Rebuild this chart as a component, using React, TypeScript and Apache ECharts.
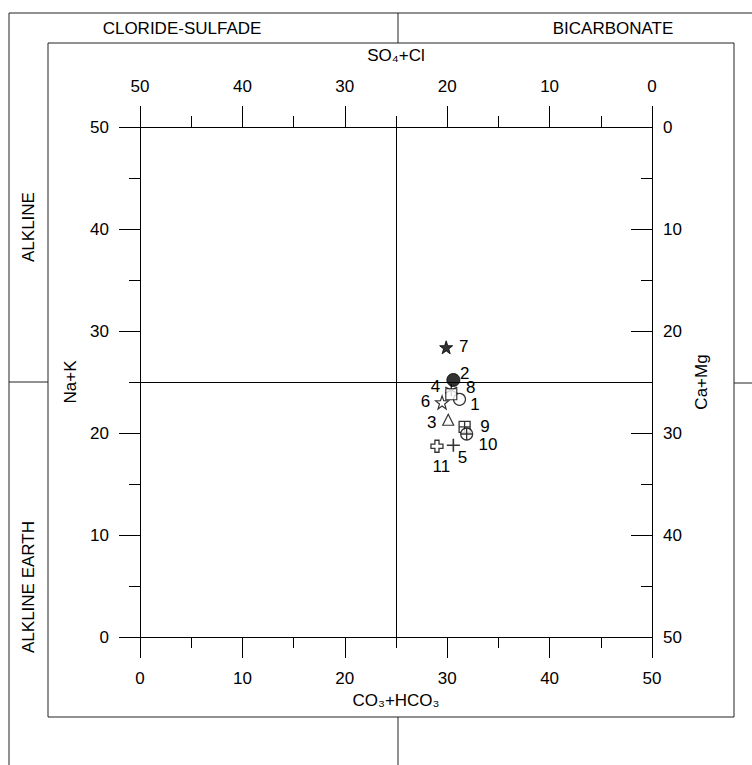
import React, { useEffect, useRef } from 'react';
import * as echarts from 'echarts';

// ---- data ----
const sampleIds = ['1', '2', '3', '4', '5', '6', '7', '8', '9', '10', '11'];
const carbonateBicarbonate = [31.2, 30.6, 30.1, 30.4, 30.6, 29.5, 29.9, 30.4, 31.7, 31.9, 29.0]; // CO3+HCO3
const sodiumPotassium = [23.3, 25.2, 21.3, 24.2, 18.8, 23.0, 28.4, 23.8, 20.6, 19.9, 18.7]; // Na+K
const markerKinds = [
  'openCircle', 'filledCircle', 'openTriangle', 'asterisk', 'plus', 'openStar',
  'filledStar', 'openSquare', 'squarePlus', 'circlePlus', 'openCross',
];
const axisMin = 0;
const axisMax = 50;
const axisStep = 10;
const dividerValue = 25;

// ---- styling / layout (not data) ----
const labelOffsets = [[16, 6], [12, -6], [-16, 3], [-15, -3], [10, 13], [-16, 0], [18, 0], [20, -6], [21, 0], [22, 11], [5, 21]];
const FONT = 'Liberation Sans, Arial, Helvetica, sans-serif';
const FS = 17;

const STAR = 'path://M5,0L6.176,3.382L9.755,3.455L6.902,5.618L7.939,9.045L5,7L2.061,9.045L3.098,5.618L0.245,3.455L3.824,3.382Z';
const markerStyles: Record<string, any> = {
  openCircle: { symbol: 'circle', size: 12, fill: '#fff', bw: 1.2 },
  filledCircle: { symbol: 'circle', size: 13, fill: '#000', bw: 1 },
  openTriangle: { symbol: 'triangle', size: 11, fill: '#fff', bw: 1.2 },
  asterisk: { symbol: 'path://M5,0L5,10M0.67,2.5L9.33,7.5M9.33,2.5L0.67,7.5', size: 12, fill: '#000', bw: 1.4 },
  plus: { symbol: 'path://M5,0L5,10M0,5L10,5', size: 13, fill: '#000', bw: 1.6 },
  openStar: { symbol: STAR, size: 13, fill: '#fff', bw: 1.2 },
  filledStar: { symbol: STAR, size: 13, fill: '#000', bw: 1 },
  openSquare: { symbol: 'rect', size: 11, fill: '#fff', bw: 1.2 },
  squarePlus: { symbol: 'path://M0,0L10,0L10,10L0,10ZM5,0L5,10M0,5L10,5', size: 11, fill: '#fff', bw: 1.3 },
  circlePlus: { symbol: 'path://M0,5A5,5,0,1,1,10,5A5,5,0,1,1,0,5ZM5,0L5,10M0,5L10,5', size: 12, fill: '#fff', bw: 1.3 },
  openCross: { symbol: 'path://M3.3,0L6.7,0L6.7,3.3L10,3.3L10,6.7L6.7,6.7L6.7,10L3.3,10L3.3,6.7L0,6.7L0,3.3L3.3,3.3Z', size: 12, fill: '#fff', bw: 1.3 },
};

export default function App() {
  const ref = useRef<HTMLDivElement>(null);

  useEffect(() => {
    if (!ref.current) return;
    const chart = echarts.init(ref.current, undefined, { renderer: 'svg' });

    const black = '#000';
    const frame = '#222';

    const axisCommon = (extra: any) => ({
      type: 'value',
      min: axisMin,
      max: axisMax,
      interval: axisStep,
      splitLine: { show: false },
      axisLine: { show: true, onZero: false, lineStyle: { color: black, width: 1 } },
      axisTick: { show: true, length: 21, lineStyle: { color: black, width: 1 } },
      minorTick: { show: true, splitNumber: 2, length: 11, lineStyle: { color: black, width: 1 } },
      nameLocation: 'middle',
      nameTextStyle: { color: black, fontSize: FS, fontFamily: FONT },
      ...extra,
      axisLabel: { color: black, fontSize: FS, fontFamily: FONT, ...(extra.axisLabel || {}) },
    });

    const data = sampleIds.map((id, i) => {
      const m = markerStyles[markerKinds[i]];
      const half = m.size / 2;
      return {
        name: id,
        value: [carbonateBicarbonate[i], sodiumPotassium[i]],
        symbol: m.symbol,
        symbolSize: m.size,
        itemStyle: { color: m.fill, borderColor: black, borderWidth: m.bw },
        label: {
          show: true,
          formatter: id,
          position: [half + labelOffsets[i][0], half + labelOffsets[i][1]],
          align: 'center',
          verticalAlign: 'middle',
          color: black,
          opacity: 1,
          textBorderWidth: 0,
          fontSize: FS,
          fontFamily: FONT,
        },
      };
    });

    const textStyle = (text: string) => ({
      text,
      fontSize: FS,
      fontFamily: FONT,
      fill: black,
      align: 'center',
      verticalAlign: 'middle',
    });

    chart.setOption({
      animation: false,
      backgroundColor: '#fff',
      grid: { left: 140, top: 127, width: 512, height: 510, containLabel: false },
      xAxis: [
        axisCommon({
          position: 'bottom',
          name: 'CO₃+HCO₃',
          nameGap: 52,
          axisLabel: { margin: 33 },
        }),
        axisCommon({
          position: 'top',
          inverse: true,
          name: 'SO₄+Cl',
          nameGap: 63,
          axisLabel: { margin: 32 },
        }),
      ],
      yAxis: [
        axisCommon({
          position: 'left',
          name: 'Na+K',
          nameRotate: 90,
          nameGap: 60,
          axisLabel: { margin: 31 },
        }),
        axisCommon({
          position: 'right',
          inverse: true,
          name: 'Ca+Mg',
          nameRotate: 90,
          nameGap: 40,
          axisTick: { show: true, inside: true, length: 21, lineStyle: { color: black, width: 1 } },
          axisLabel: { margin: 11 },
        }),
      ],
      series: [
        {
          type: 'scatter',
          xAxisIndex: 0,
          yAxisIndex: 0,
          data,
          z: 5,
          markLine: {
            silent: true,
            symbol: ['none', 'none'],
            label: { show: false },
            lineStyle: { color: black, width: 1, type: 'solid' },
            data: [{ xAxis: dividerValue }, { yAxis: dividerValue }],
            z: 1,
          },
        },
      ],
      graphic: [
        { type: 'rect', shape: { x: 9, y: 13, width: 820, height: 820 }, style: { fill: 'none', stroke: frame, lineWidth: 1 }, silent: true },
        { type: 'rect', shape: { x: 48, y: 43, width: 686, height: 674 }, style: { fill: 'none', stroke: frame, lineWidth: 1 }, silent: true },
        { type: 'line', shape: { x1: 398, y1: 13, x2: 398, y2: 43 }, style: { stroke: frame, lineWidth: 1 }, silent: true },
        { type: 'line', shape: { x1: 398, y1: 717, x2: 398, y2: 800 }, style: { stroke: frame, lineWidth: 1 }, silent: true },
        { type: 'line', shape: { x1: 9, y1: 382, x2: 48, y2: 382 }, style: { stroke: frame, lineWidth: 1 }, silent: true },
        { type: 'line', shape: { x1: 734, y1: 383, x2: 800, y2: 383 }, style: { stroke: frame, lineWidth: 1 }, silent: true },
        { type: 'text', x: 182, y: 28, style: textStyle('CLORIDE-SULFADE'), silent: true },
        { type: 'text', x: 613, y: 28, style: textStyle('BICARBONATE'), silent: true },
        { type: 'text', x: 28, y: 227, rotation: Math.PI / 2, style: textStyle('ALKLINE'), silent: true },
        { type: 'text', x: 28, y: 587, rotation: Math.PI / 2, style: textStyle('ALKLINE EARTH'), silent: true },
      ],
    });

    return () => {
      chart.dispose();
    };
  }, []);

  return (
    <div
      ref={ref}
      style={{ position: 'absolute', left: 0, top: 0, width: 752, height: 765 }}
    />
  );
}
